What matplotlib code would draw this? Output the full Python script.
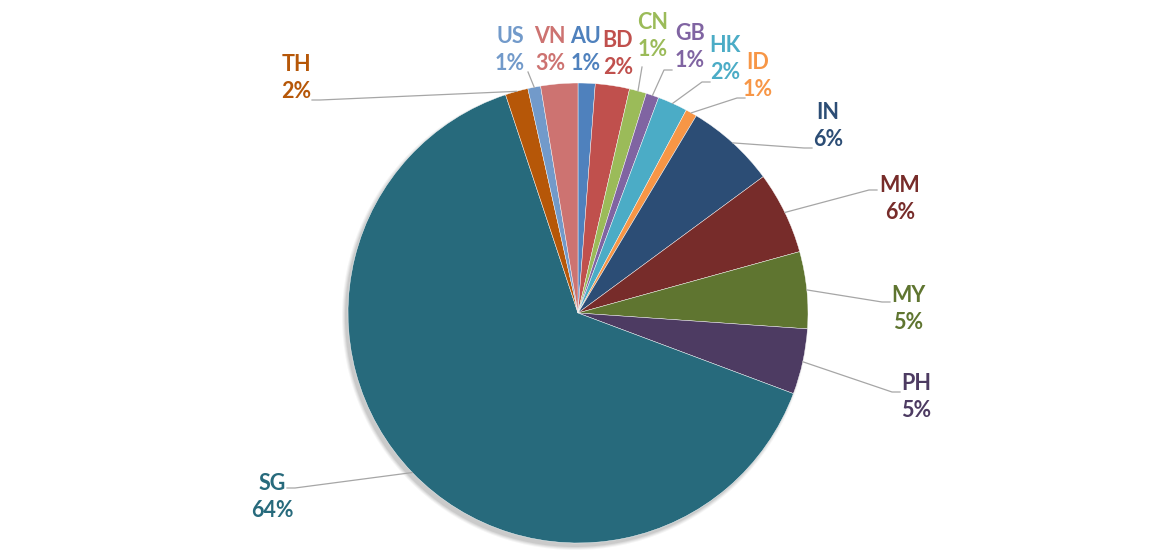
import numpy as np
import matplotlib
matplotlib.use('Agg')
import matplotlib.pyplot as plt
from matplotlib.patches import Circle

# ===== data (share of total, %)
countries = ['AU', 'BD', 'CN', 'GB', 'HK', 'ID', 'IN', 'MM', 'MY', 'PH', 'SG', 'TH', 'US', 'VN']
shares = [1.2, 2.4, 1.2, 0.9, 2.1, 0.8, 6.3, 5.8, 5.4, 4.6, 64.2, 1.6, 0.9, 2.6]
colors = ['#4F81BD', '#C0504D', '#9BBB59', '#8064A2', '#4BACC6', '#F79646', '#2C4D75',
          '#772C2A', '#5F7530', '#4D3B62', '#276A7C', '#B65708', '#729ACA', '#CD7371']

# ===== layout, in pixels (y measured from the top of the picture)
W, H = 1159, 558
CX, CY, R = 578, 313, 230
label_pos = {'AU': (586, 50), 'BD': (618, 54), 'CN': (653, 36), 'GB': (690, 47),
             'HK': (725, 59), 'ID': (758, 76), 'IN': (828, 126), 'MM': (900, 199),
             'MY': (908, 309), 'PH': (916, 397), 'SG': (272, 497), 'TH': (296, 78),
             'US': (510, 50), 'VN': (550, 50)}
# where the leader line meets the label (None: no leader line)
leader_end = {'US': (528, 72), 'CN': (642, 67), 'GB': (672, 70), 'HK': (710, 82),
              'ID': (745, 98), 'IN': (812, 148), 'MM': (877, 190), 'MY': (890, 302),
              'PH': (900, 392), 'SG': (287, 488), 'TH': (312, 100)}

fig = plt.figure(figsize=(W / 100, H / 100), dpi=100)
ax = fig.add_axes([0, 0, 1, 1])

def py(y):
    return H - y

# soft shadow under the pie, falling to the lower left
for k, a in enumerate([0.04, 0.05, 0.06, 0.07]):
    ax.add_patch(Circle((CX - 3, py(CY) - 4), R + 3 - k, color='black', alpha=a, lw=0, zorder=0))

wedges, _ = ax.pie(shares, colors=colors, startangle=90, counterclock=False,
                   center=(CX, py(CY)), radius=R, frame=True,
                   wedgeprops=dict(edgecolor='white', linewidth=0.3))
ax.set_xlim(0, W)
ax.set_ylim(0, H)
ax.set_aspect('equal')
ax.axis('off')

for w, name, val, col in zip(wedges, countries, shares, colors):
    mid = np.deg2rad((w.theta1 + w.theta2) / 2)
    x0 = CX + R * np.cos(mid)
    y0 = py(CY) + R * np.sin(mid)
    lx, ly = label_pos[name]
    ax.text(lx, py(ly), '%s\n%d%%' % (name, round(val)), ha='center', va='center',
            color=col, fontsize=15.5, fontweight='bold', family='Lato',
            linespacing=1.3, zorder=5)
    if name in leader_end:
        ex, ey = leader_end[name]
        step = 8 if ex > x0 else -8
        if abs(ex - x0) < 15:
            xs, ys = [x0, ex], [y0, py(ey)]
        else:
            xs, ys = [x0, ex - step, ex], [y0, py(ey), py(ey)]
        ax.plot(xs, ys, color='#A6A6A6', lw=0.9, zorder=4)

fig.savefig('out.png', dpi=100)
